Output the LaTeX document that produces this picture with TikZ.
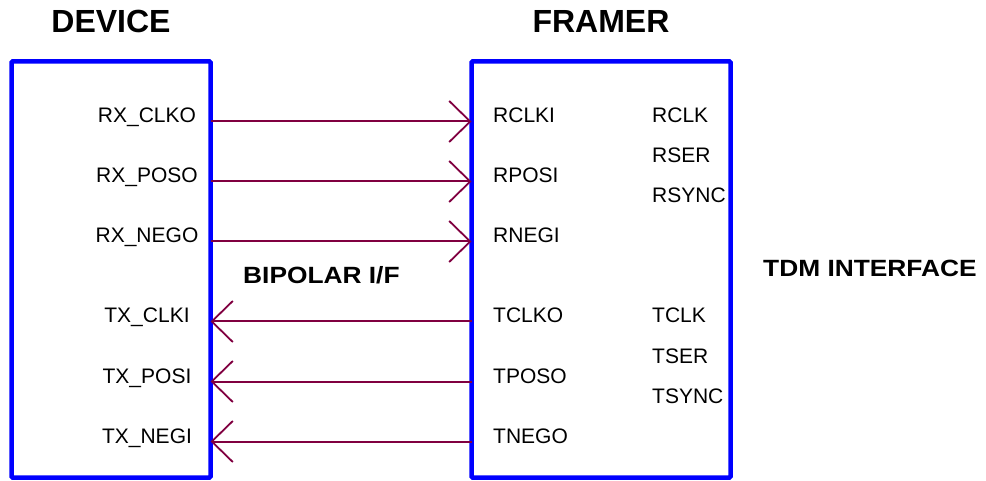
\documentclass[tikz,border=0pt]{standalone}
\usepackage{fontspec}
\setmainfont{Liberation Sans}
\newfontfamily\notefont[FakeStretch=1.12]{Liberation Sans Bold}
\usetikzlibrary{arrows.meta,positioning}

\definecolor{wirecol}{RGB}{128,0,64}

\tikzset{
  blk/.style   = {draw=blue, line width=4.5pt, rounded corners=1pt,
                  outer sep=0pt, inner sep=0pt, minimum height=416pt},
  wire/.style  = {color=wirecol, line width=2pt},
  barb/.tip    = {Straight Barb[length=21pt,width=41pt,line width=1.8pt]},
  pinlbl/.style= {inner sep=0pt, anchor=base, font=\fontsize{21}{25}\selectfont},
  ttl/.style   = {inner sep=0pt, anchor=base, font=\fontsize{32}{38}\selectfont\bfseries},
  note/.style  = {inner sep=0pt, anchor=base west, font=\fontsize{23.5}{28}\notefont}
}

\begin{document}
\begin{tikzpicture}[x=1pt, y=-1pt]
\useasboundingbox (0,0) rectangle (986,481);
\node (dev) [blk, minimum width=199pt] at (111,269.5) {};
\node (frm) [blk, minimum width=259pt] at (601,269.5) {};
%
\node (devttl) [ttl] at (111,33) {DEVICE};
\node (frmttl) [ttl] at (601,33) {FRAMER};
\node (bip) [note] at (243,283.5) {BIPOLAR I/F};
\node (tdm) [note] at (763,277) {TDM INTERFACE};
%
\foreach \y/\t/\u [count=\xi from 1] in {121.5/RX\_CLKO/RCLKI, 181.5/RX\_POSO/RPOSI,
        241.5/RX\_NEGO/RNEGI, 321.5/TX\_CLKI/TCLKO, 381.5/TX\_POSI/TPOSO, 441.5/TX\_NEGI/TNEGO}
{
    \coordinate (w\xi) at (0,\y);
    \node (dl\xi) [pinlbl] at (147,\y+1.5) {\t};
    \node (fl\xi) [pinlbl, anchor=base west] at (493,\y+1.5) {\u};
}
\foreach \y/\t [count=\xi from 1] in {123/RCLK, 163/RSER, 203/RSYNC, 323/TCLK, 363/TSER, 403/TSYNC}
    \node (tl\xi) [pinlbl, anchor=base west] at (652,\y) {\t};
%
\foreach \xi in {1,2,3}
    \draw[wire, -barb] (dev.east |- w\xi) -- (frm.west |- w\xi);
\foreach \xi in {4,5,6}
    \draw[wire, barb-] (dev.east |- w\xi) -- (frm.west |- w\xi);
\end{tikzpicture}
\end{document}
